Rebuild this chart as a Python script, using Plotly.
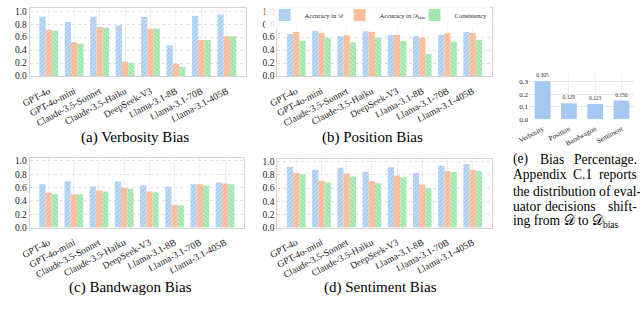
import plotly.graph_objects as go

models = ["GPT-4o", "GPT-4o-mini", "Claude-3.5-Sonnet", "Claude-3.5-Haiku",
          "DeepSeek-V3", "Llama-3.1-8B", "Llama-3.1-70B", "Llama-3.1-405B"]

verbosity_acc = [0.915, 0.835, 0.915, 0.785, 0.91, 0.47, 0.93, 0.95]
verbosity_acc_bias = [0.71, 0.52, 0.755, 0.22, 0.735, 0.19, 0.555, 0.615]
verbosity_cons = [0.70, 0.50, 0.745, 0.20, 0.735, 0.145, 0.555, 0.615]

position_acc = [0.65, 0.70, 0.615, 0.69, 0.635, 0.615, 0.635, 0.68]
position_acc_bias = [0.68, 0.665, 0.63, 0.68, 0.635, 0.59, 0.66, 0.665]
position_cons = [0.54, 0.59, 0.52, 0.59, 0.54, 0.34, 0.53, 0.56]

bandwagon_acc = [0.65, 0.695, 0.615, 0.69, 0.635, 0.615, 0.65, 0.675]
bandwagon_acc_bias = [0.52, 0.50, 0.555, 0.595, 0.54, 0.345, 0.65, 0.66]
bandwagon_cons = [0.50, 0.50, 0.54, 0.58, 0.53, 0.335, 0.625, 0.65]

sentiment_acc = [0.925, 0.88, 0.91, 0.85, 0.915, 0.83, 0.945, 0.965]
sentiment_acc_bias = [0.83, 0.71, 0.82, 0.705, 0.79, 0.655, 0.86, 0.875]
sentiment_cons = [0.805, 0.685, 0.775, 0.675, 0.765, 0.60, 0.845, 0.86]

bias_types = ["Verbosity", "Position", "Bandwagon", "Sentiment"]
bias_pct = [0.305, 0.129, 0.123, 0.150]

series_names = ["Accuracy in 𝒟", "Accuracy in 𝒟<sub>bias</sub>", "Consistency"]
series_colors = ["#a7caf2", "#fbb893", "#97e4a8"]
series_patterns = ["/", "/", "\\"]

W, H = 640, 314
FONT = "Liberation Serif"


def px_x(p):
    return p / W


def px_y(p):
    return 1 - p / H


panels = [
    ((verbosity_acc, verbosity_acc_bias, verbosity_cons), "", (19, 239), (0, 71),
     "(a) Verbosity Bias", (126, 135)),
    ((position_acc, position_acc_bias, position_cons), "2", (271, 489), (0, 71),
     "(b) Position Bias", (368, 135)),
    ((bandwagon_acc, bandwagon_acc_bias, bandwagon_cons), "3", (19, 237), (156, 229),
     "(c) Bandwagon Bias", (122, 292)),
    ((sentiment_acc, sentiment_acc_bias, sentiment_cons), "4", (271, 489), (157, 229),
     "(d) Sentiment Bias", (376, 292)),
]

fig = go.Figure()
layout = dict(
    width=W, height=H, margin=dict(l=0, r=0, t=0, b=0),
    paper_bgcolor="white", plot_bgcolor="white",
    font=dict(family=FONT, color="#222222"),
    barmode="group", bargap=0.26, bargroupgap=0.0,
    annotations=[],
)

for vals, k, dx, dy, cap, cpos in panels:
    for i in range(3):
        fig.add_trace(go.Bar(
            x=models, y=vals[i], name=series_names[i],
            xaxis="x" + k, yaxis="y" + k,
            legendgroup=series_names[i], showlegend=(k == "2"),
            marker=dict(color=series_colors[i], line=dict(width=0),
                        pattern=dict(shape=series_patterns[i], fgcolor="white",
                                     fgopacity=0.55 if i != 1 else 0.3,
                                     size=3, solidity=0.3, fillmode="overlay")),
        ))
    layout["xaxis" + k] = dict(
        domain=[px_x(dx[0]), px_x(dx[1])], anchor="y" + k, type="category",
        range=[-0.75, 7.75], tickangle=-28, tickfont=dict(size=9.5, family=FONT),
        showline=True, linecolor="#d4d4d4", mirror=True, linewidth=1,
        showgrid=True, gridcolor="#efefef", ticks="outside", ticklen=5,
        tickcolor="rgba(0,0,0,0)", fixedrange=True,
    )
    layout["yaxis" + k] = dict(
        domain=[px_y(dy[1]), px_y(dy[0])], anchor="x" + k,
        range=[0, 1.05], tickvals=[0, 0.2, 0.4, 0.6, 0.8, 1.0], tickformat=".1f",
        tickfont=dict(size=9.5, family=FONT), showline=True, linecolor="#d4d4d4",
        mirror=True, linewidth=1, showgrid=True, gridcolor="#e2e2e2", griddash="dot",
        zeroline=False, ticks="",
    )
    layout["annotations"].append(dict(
        text=cap, x=px_x(cpos[0]), y=px_y(cpos[1]), xref="paper", yref="paper",
        xanchor="center", yanchor="middle", showarrow=False,
        font=dict(size=15, family=FONT, color="black"),
    ))

# (e) bias percentage
fig.add_trace(go.Bar(
    x=bias_types, y=bias_pct, xaxis="x5", yaxis="y5", showlegend=False,
    marker=dict(color="#a4c8f0", line=dict(width=0)), width=0.6,
    text=[f"{v:.3f}" for v in bias_pct], textposition="outside",
    textfont=dict(size=5.5, family=FONT, color="#333"), cliponaxis=False,
))
layout["xaxis5"] = dict(
    domain=[px_x(527), px_x(634)], anchor="y5", type="category",
    range=[-0.52, 3.48], tickangle=-28, tickfont=dict(size=7, family=FONT),
    showline=False, showgrid=True, gridcolor="#efefef", ticks="outside", ticklen=2,
    tickcolor="rgba(0,0,0,0)",
)
layout["yaxis5"] = dict(
    domain=[px_y(116), px_y(66)], anchor="x5", range=[0, 0.385],
    tickvals=[0, 0.1, 0.2, 0.3], tickformat=".1f", tickfont=dict(size=7, family=FONT),
    showline=False, showgrid=True, gridcolor="#e6e6e6", zeroline=False, ticks="",
)

# (e) caption, justified manually by words
cap_font = dict(size=13.6, family=FONT, color="black")
cap_words = [
    ("(e)", 509, 158, "left"), ("Bias", 536, 158, "left"), ("Percentage.", 639, 158, "right"),
    ("Appendix", 509, 174, "left"), ("C.1", 581, 174, "center"), ("reports", 639, 174, "right"),
    ("the distribution of eval-", 509, 191, "left"),
    ("uator", 509, 207, "left"), ("decisions", 569, 207, "center"), ("shift-", 639, 207, "right"),
    ("ing from 𝒟 to 𝒟<sub>bias</sub>", 509, 223, "left"),
]
for t, xx, yy, anc in cap_words:
    layout["annotations"].append(dict(
        text=t, x=px_x(xx), y=px_y(yy), xref="paper", yref="paper",
        xanchor=anc, yanchor="middle", showarrow=False, font=cap_font,
    ))

layout["legend"] = dict(
    orientation="h", x=px_x(258), y=1.025, xanchor="left", yanchor="top",
    font=dict(size=6.5, family=FONT), bgcolor="rgba(255,255,255,0.85)",
    bordercolor="#dddddd", borderwidth=0, itemwidth=30,
    entrywidth=30, entrywidthmode="pixels", tracegroupgap=0,
)

fig.update_layout(**layout)
fig.write_html("out.html", config={"displayModeBar": False},
               post_script="document.body.style.margin='0px';")
